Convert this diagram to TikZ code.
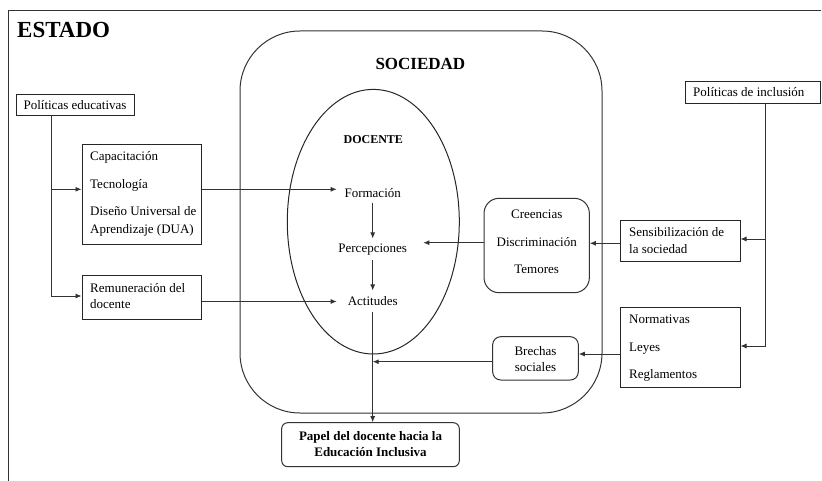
\documentclass[tikz,border=0pt]{standalone}
\usepackage{fontspec}
\setmainfont{Liberation Serif}
\usetikzlibrary{arrows.meta,shapes.geometric}
\begin{document}
\begin{tikzpicture}[x=1pt,y=-1pt,
  every node/.style={font=\fontsize{13}{16}\selectfont, inner sep=0pt, text=black},
  line/.style={draw=black!80, line width=0.9pt},
  arr/.style={line, -{Latex[length=6pt,width=5pt]}},
  sqbox/.style={draw=black!85, line width=1pt, fill=white},
  rbox/.style={draw=black!80, line width=1pt, rounded corners=#1},
  lbl/.style={anchor=base west},
  clbl/.style={anchor=base},
  bold/.style={font=\fontsize{#1}{#1}\selectfont\bfseries},
]
\useasboundingbox (0,0) rectangle (822,481);
% ESTADO frame
\coordinate (fbl) at (8,481);
\coordinate (ftl) at (8,11);
\coordinate (ftr) at (821,11);
\draw[draw=black!80, line width=1pt] (fbl) -- (ftl) -- (ftr);
\node[bold=23, anchor=base west] (estado) at (17,37.3) {ESTADO};

% SOCIEDAD
\node[rbox=60pt, minimum width=362pt, minimum height=382pt] (soc) at (421,222) {};
\node[bold=17, anchor=base] (soctxt) at (420.4,69.3) {SOCIEDAD};

% DOCENTE ellipse
\node[ellipse, draw=black!85, line width=1pt, minimum width=172pt, minimum height=264.6pt] (doc) at (373.3,221.7) {};
\node[bold=12, anchor=base] (doctxt) at (373.3,144) {DOCENTE};

% inner texts
\node[clbl, inner ysep=5pt] (fo) at (372.7,197.3) {Formación};
\node[clbl, inner ysep=5pt] (pc) at (372.7,252.3) {Percepciones};
\node[clbl, inner ysep=6pt] (ac) at (372.7,305.7) {Actitudes};

% left boxes
\node[sqbox, minimum width=118pt, minimum height=21pt] (pe) at (75,105.5) {};
\node[clbl] (petxt) at (75,110) {Políticas educativas};
\node[sqbox, minimum width=119pt, minimum height=100.3pt] (cap) at (141.5,194.85) {};
\node[lbl] (t1) at (90,160.7) {Capacitación};
\node[lbl] (t2) at (90,188.3) {Tecnología};
\node[lbl] (t3) at (90,215.3) {Diseño Universal de};
\node[lbl] (t4) at (90,233.3) {Aprendizaje (DUA)};
\node[sqbox, minimum width=119pt, minimum height=43.3pt] (rem) at (141.5,297.35) {};
\node[lbl] (t5) at (90,292.7) {Remuneración del};
\node[lbl] (t6) at (90,308.3) {docente};

% right boxes
\node[sqbox, minimum width=134.3pt, minimum height=21.6pt] (pi) at (752.9,92.5) {};
\node[lbl] (pitxt) at (693,96.7) {Políticas de inclusión};
\node[sqbox, minimum width=119.3pt, minimum height=40pt] (se) at (680.35,241) {};
\node[lbl] (s1) at (629,236.7) {Sensibilización de};
\node[lbl] (s2) at (629,253.3) {la sociedad};
\node[sqbox, minimum width=119.3pt, minimum height=80pt] (no) at (680.35,347.3) {};
\node[lbl] (n1) at (629,323.3) {Normativas};
\node[lbl] (n2) at (629,351.7) {Leyes};
\node[lbl] (n3) at (629,378.3) {Reglamentos};

% inner society boxes
\node[rbox=15pt, minimum width=105.3pt, minimum height=94.4pt] (cre) at (536.7,245.5) {};
\node[clbl] (c1t) at (536.7,219) {Creencias};
\node[clbl] (c2t) at (536.7,246.7) {Discriminación};
\node[clbl] (c3t) at (536.7,273.3) {Temores};
\node[rbox=8pt, minimum width=85.6pt, minimum height=43.3pt] (br) at (535.5,358.35) {};
\node[clbl] (b1) at (535.5,355) {Brechas};
\node[clbl] (b2) at (535.5,371) {sociales};

% result box
\node[rbox=6pt, minimum width=177.6pt, minimum height=44pt] (pap) at (370.5,444.7) {};
\node[bold=13, anchor=base] (p1) at (370.5,440) {Papel del docente hacia la};
\node[bold=13, anchor=base] (p2) at (370.5,456) {Educación Inclusiva};

% coordinates for connectors
\coordinate (pex) at (51,0);
\coordinate (cy1) at (51,189.3);
\coordinate (cy2) at (51,296);
\coordinate (foin) at (336.7,189.3);
\coordinate (acin) at (336.7,301.5);
\coordinate (remy) at (0,301.5);
\coordinate (pcin) at (423.3,242.7);
\coordinate (crey) at (0,242.7);
\coordinate (sey) at (0,243.3);
\coordinate (pix) at (765.7,0);
\coordinate (piy1) at (765.7,239);
\coordinate (piy2) at (765.7,346);
\coordinate (noy) at (0,354);
\coordinate (bry) at (0,361.7);

% left connectors
\draw[line] (pe.south -| pex) -- (cy2);
\draw[arr] (cy1) -- (cap.west |- cy1);
\draw[arr] (cy2) -- (rem.west |- cy2);
\draw[arr] (cap.east |- foin) -- (foin);
\draw[arr] (rem.east |- remy) -- (acin);

% inner chain
\draw[arr] (fo.south) -- (pc.north);
\draw[arr] (pc.south) -- (ac.north);
\draw[arr] (ac.south) -- (ac.south |- pap.north);

% right connectors
\draw[line] (pi.south -| pix) -- (piy2);
\draw[arr] (piy1) -- (se.east |- piy1);
\draw[arr] (piy2) -- (no.east |- piy2);
\draw[arr] (se.west |- sey) -- (cre.east |- sey);
\draw[arr] (cre.west |- crey) -- (pcin);
\draw[arr] (no.west |- noy) -- (br.east |- noy);
\draw[arr] (br.west |- bry) -- (ac.south |- bry);
\end{tikzpicture}
\end{document}
